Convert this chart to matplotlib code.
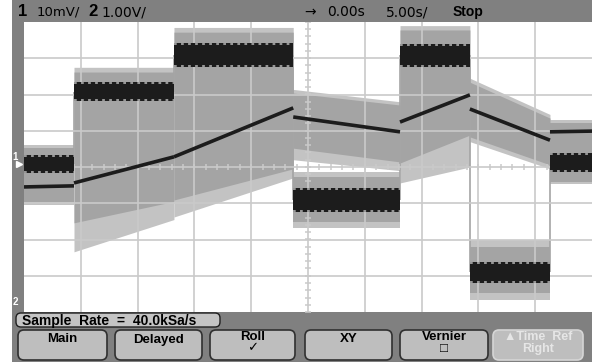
import numpy as np
import matplotlib
matplotlib.use('Agg')
from matplotlib import pyplot as plt
from matplotlib.patches import Rectangle, FancyBboxPatch

# Screen is 10 x 8 divisions; values below are in divisions from the centre line
seg_edges = [0, 0.88, 2.64, 4.74, 6.62, 7.85, 9.26, 10.0]

# Channel 2: stepped level with ripple
ch2_level = [0.08, 2.08, 3.09, -0.91, 3.08, -2.91, 0.12]
ch2_half = [0.25, 0.26, 0.33, 0.33, 0.32, 0.29, 0.26]

# Averaged ramp, one straight piece per segment
ramp_start = [-0.55, -0.44, 0.28, 1.38, 1.24, 1.60, 0.97]
ramp_end = [-0.52, 0.28, 1.63, 0.97, 1.99, 0.74, 0.99]

# Noise envelopes: one entry per gray blob (segment, start/end values)
noise_seg = [0, 1, 2, 3, 3, 4, 5, 5, 6]
noise_top = [(0.52, 0.52), (2.62, 2.62), (3.72, 3.72), (2.04, 1.71), (-0.28, -0.28),
             (3.78, 3.78), (2.34, 1.35), (-2.21, -2.21), (1.21, 1.21)]
noise_bot = [(-0.97, -0.97), (-1.54, -0.95), (-0.91, -0.05), (0.52, 0.14), (-1.52, -1.52),
             (0.11, 0.88), (0.83, 0.06), (-3.48, -3.48), (-0.41, -0.41)]
spike_top = [(0.62, 0.62), (2.75, 2.75), (3.85, 3.85), (2.14, 1.80), (-0.14, -0.14),
             (3.90, 3.90), (2.45, 1.45), (-2.01, -2.01), (1.30, 1.30)]
spike_bot = [(-1.05, -1.05), (-2.34, -1.45), (-1.38, -0.30), (0.20, -0.10), (-1.68, -1.68),
             (-0.44, 0.00), (0.70, -0.05), (-3.67, -3.67), (-0.48, -0.48)]

# Status line and softkeys
status_left = [('1', '10mV/'), ('2', '1.00V/')]
status_right = ['→', '0.00s', '5.00s/', 'Stop']
softkeys = ['Main', 'Delayed', 'Roll\n✓', 'XY', 'Vernier\n□', '▲Time  Ref\nRight']
sample_rate = 'Sample  Rate  =  40.0kSa/s'

GRAY = '#a4a4a4'
FRINGE = '#c3c3c3'
BLACK = '#1c1c1c'
FRAME = '#808080'
GRID = '#cacaca'

fig = plt.figure(figsize=(5.92, 3.62), dpi=100)
fig.patch.set_facecolor('white')

# frame / status bar / softkey area drawn in pixel coordinates
bg = fig.add_axes([0, 0, 1, 1])
bg.set_xlim(0, 592)
bg.set_ylim(362, 0)
bg.axis('off')
bg.add_patch(Rectangle((12, 0), 580, 22, color=FRAME, lw=0))
bg.add_patch(Rectangle((12, 22), 12, 290, color=FRAME, lw=0))
bg.add_patch(Rectangle((12, 312), 580, 50, color=FRAME, lw=0))

bold = dict(family='Liberation Sans', fontweight='bold')
bg.text(18, 12, status_left[0][0], fontsize=12, va='center', **bold)
bg.text(37, 12, status_left[0][1], fontsize=9.5, va='center', family='DejaVu Sans')
bg.text(88, 12, status_left[1][0], fontsize=12, va='center', **bold)
bg.text(101, 12, status_left[1][1], fontsize=10, va='center', family='DejaVu Sans')
bg.text(304, 12, status_right[0], fontsize=10, va='center', family='DejaVu Sans')
bg.text(327, 12, status_right[1], fontsize=10, va='center', family='DejaVu Sans')
bg.text(386, 12, status_right[2], fontsize=10, va='center', family='DejaVu Sans')
bg.text(453, 12, status_right[3], fontsize=10, va='center', **bold)

# channel markers on the left edge
bg.text(15, 157, '1', fontsize=7, color='white', va='center', ha='center', **bold)
bg.plot([19], [164], marker='>', ms=4, color='white')
bg.text(15, 302, '2', fontsize=7, color='white', va='center', ha='center', **bold)

# sample rate box
bg.add_patch(FancyBboxPatch((16, 313), 204, 14, boxstyle='round,pad=0,rounding_size=5',
                            fc='#c4c4c4', ec='#202020', lw=1))
bg.text(22, 320.5, sample_rate, fontsize=10, va='center', **bold)

# softkeys
key_left = [18, 115, 210, 305, 400, 493]
key_right = [107, 202, 295, 392, 488, 583]
for i, label in enumerate(softkeys):
    disabled = label.startswith('▲')
    two_line = '\n' in label
    bg.add_patch(FancyBboxPatch((key_left[i], 330), key_right[i] - key_left[i], 30,
                                boxstyle='round,pad=0,rounding_size=6',
                                fc='#bebebe', ec='#d6d6d6' if disabled else '#303030', lw=1.2))
    bg.text((key_left[i] + key_right[i]) / 2, 331.5 if two_line else 339.5, label,
            fontsize=9 if disabled else 9.5, ha='center', va='top' if two_line else 'center',
            linespacing=0.9, color='#e6e6e6' if disabled else 'black',
            family=['Liberation Sans', 'DejaVu Sans'], fontweight='bold')

# scope screen
ax = fig.add_axes([24 / 592, 50 / 362, 568 / 592, 290 / 362])
ax.set_xlim(0, 10)
ax.set_ylim(-4, 4)
ax.set_facecolor('white')
for s in ax.spines.values():
    s.set_visible(False)
ax.set_xticks([])
ax.set_yticks([])

for i, s in enumerate(noise_seg):
    xs = [seg_edges[s], seg_edges[s + 1]]
    ax.fill_between(xs, spike_bot[i], spike_top[i], color=FRINGE, lw=0, zorder=1)
for i, s in enumerate(noise_seg):
    xs = [seg_edges[s], seg_edges[s + 1]]
    ax.fill_between(xs, noise_bot[i], noise_top[i], color=GRAY, lw=0, zorder=1.5)

# channel 2 transitions
for i in range(1, len(seg_edges) - 1):
    lo = min(ch2_level[i - 1], ch2_level[i])
    hi = max(ch2_level[i - 1], ch2_level[i])
    ax.vlines(seg_edges[i], lo, hi, color=GRAY, lw=1.2, zorder=1.5)

# graticule
for xv in range(1, 10):
    ax.axvline(xv, color=GRID, lw=1.2, zorder=2)
for yv in range(-3, 4):
    ax.axhline(yv, color=GRID, lw=1.2, zorder=2)
ax.plot(np.arange(0, 10.01, 0.2), np.zeros(51), ls='none', marker='|', ms=5,
        mew=1.1, color=GRID, zorder=2)
ax.plot(np.full(41, 5.0), np.arange(-4, 4.01, 0.2), ls='none', marker='_', ms=5,
        mew=1.1, color=GRID, zorder=2)

# channel 2 band; gray notches on the edges give the ripple look
for i in range(len(ch2_level)):
    xs = [seg_edges[i], seg_edges[i + 1]]
    c, h = ch2_level[i], ch2_half[i]
    ax.fill_between(xs, c - h, c + h, color=BLACK, lw=0, zorder=3)
    for sign in (1, -1):
        ax.plot(xs, [c + sign * (h - 0.022)] * 2, color=GRAY, lw=1.3,
                dashes=(1.5, 2.4), zorder=3.2)

# ramp
for i in range(len(ramp_start)):
    ax.plot([seg_edges[i], seg_edges[i + 1]], [ramp_start[i], ramp_end[i]],
            color=BLACK, lw=2.6, solid_capstyle='butt', zorder=3.5)

plt.savefig('out.png', dpi=100)
